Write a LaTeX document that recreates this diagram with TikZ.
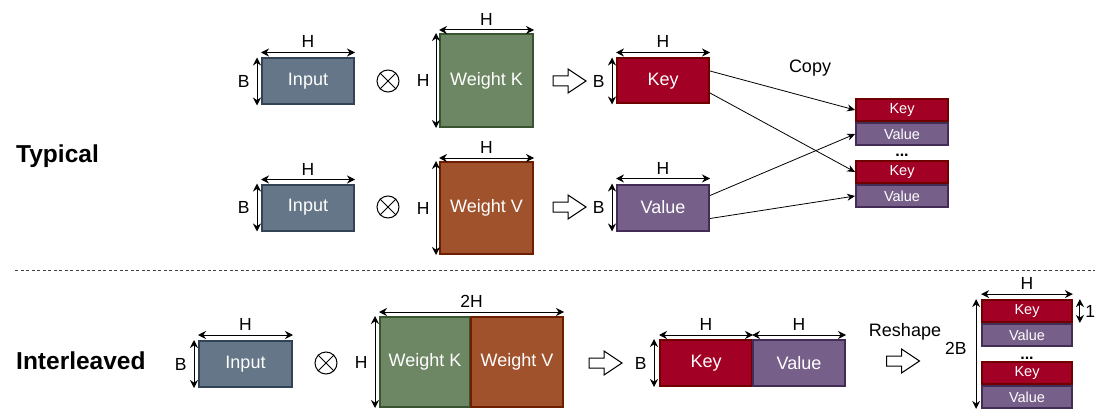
\documentclass[tikz,border=0pt]{standalone}
\usepackage{fontspec}
\setmainfont{Liberation Sans}
\usetikzlibrary{arrows.meta}

\definecolor{inFill}{HTML}{647687}\definecolor{inDraw}{HTML}{314354}
\definecolor{wkFill}{HTML}{6D8764}\definecolor{wkDraw}{HTML}{3A5431}
\definecolor{wvFill}{HTML}{A0522D}\definecolor{wvDraw}{HTML}{6D1F00}
\definecolor{keyFill}{HTML}{A20025}\definecolor{keyDraw}{HTML}{6F0000}
\definecolor{valFill}{HTML}{76608A}\definecolor{valDraw}{HTML}{432D57}

\tikzset{
  box/.style={draw, line width=2pt, text=white, inner sep=0pt,
    font=\fontsize{18}{20}\selectfont},
  inbox/.style={box, fill=inFill, draw=inDraw},
  wkbox/.style={box, fill=wkFill, draw=wkDraw},
  wvbox/.style={box, fill=wvFill, draw=wvDraw},
  keybox/.style={box, fill=keyFill, draw=keyDraw},
  valbox/.style={box, fill=valFill, draw=valDraw},
  sz/.style 2 args={minimum width=#1, minimum height=#2},
  small/.style={font=\fontsize{14.5}{16}\selectfont, line width=1.8pt},
  lbl/.style={inner sep=1pt, font=\fontsize{17.5}{19}\selectfont},
  txt/.style={inner sep=1pt, font=\fontsize{18}{20}\selectfont},
  sect/.style={inner sep=0pt, font=\fontsize{24.5}{26}\selectfont\bfseries},
  dots/.style={inner sep=0pt, font=\fontsize{16}{18}\selectfont\bfseries, anchor=base},
  dim/.style={{Stealth[length=8pt,width=8pt]}-{Stealth[length=8pt,width=8pt]}, line width=1pt},
  conn/.style={-{Stealth[length=8pt,width=7pt]}, line width=0.8pt},
  timesop/.style={circle, draw, line width=1pt, minimum size=22, inner sep=0pt},
  hollowarrow/.pic={\draw[line width=1pt, fill=white]
    (-16.5,-5) -- (-1.5,-5) -- (-1.5,-12) -- (16.5,0) -- (-1.5,12) -- (-1.5,5) -- (-16.5,5) -- cycle;},
}

\begin{document}
\begin{tikzpicture}[x=1pt, y=-1pt]
\useasboundingbox (0,0) rectangle (1107,409);

% ---------- section titles and separator ----------
\node[sect, anchor=base west] (tTyp) at (16,162) {Typical};
\node[sect, anchor=base west] (tInt) at (16,369) {Interleaved};
\draw[dash pattern=on 3pt off 2.5pt, line width=0.8pt, black!75] (15,270) -- (1095,270);

% ---------- typical: key path ----------
\node[inbox, sz={92}{46}] (in1) at (308,81.5) {Input};
\node[timesop] (m1) at (388,81) {};
\node[wkbox, sz={93}{93}] (wk1) at (486.5,80.5) {Weight K};
\pic at (569.5,81) {hollowarrow};
\node[keybox, sz={92}{45}] (k1) at (663,81) {Key};

% ---------- typical: value path ----------
\node[inbox, sz={92}{46}] (in2) at (308,207.5) {Input};
\node[timesop] (m2) at (388,207) {};
\node[wvbox, sz={93}{92}] (wv1) at (486.5,208) {Weight V};
\pic at (569.5,207) {hollowarrow};
\node[valbox, sz={92}{46}] (v1) at (663,207.5) {Value};

% ---------- typical: cache entries ----------
\node[keybox, small, sz={92}{22}] (ck1) at (902,110) {Key};
\node[valbox, small, sz={92}{22}] (cv1) at (902,134) {Value};
\node[dots] (dots1) at (902,156) {...};
\node[keybox, small, sz={92}{22}] (ck2) at (902,172) {Key};
\node[valbox, small, sz={92}{22}] (cv2) at (902,196) {Value};
\node[txt] (copy) at (810,68) {Copy};

\draw[conn] ([yshift=10pt]k1.east) -- (ck1.west);
\draw[conn] ([yshift=-12pt]k1.east) -- (ck2.west);
\draw[conn] ([yshift=12pt]v1.east) -- (cv1.west);
\draw[conn] ([yshift=-11pt]v1.east) -- (cv2.west);

% ---------- interleaved ----------
\node[inbox, sz={93}{46}] (in3) at (245.5,364) {Input};
\node[timesop] (m3) at (326,363) {};
\node[wkbox, sz={90}{90}] (wk2) at (425,362) {Weight K};
\node[wvbox, sz={92}{90}] (wv2) at (517,362) {Weight V};
\pic at (605.5,363) {hollowarrow};
\node[keybox, sz={92}{46}] (k2) at (706,363) {Key};
\node[valbox, sz={92}{46}] (v2) at (799,363) {Value};
\node[txt] (reshape) at (905,332) {Reshape};
\pic at (903,361) {hollowarrow};
\node[keybox, small, sz={90}{22}] (ik1) at (1027,311) {Key};
\node[valbox, small, sz={90}{22}] (iv1) at (1027,335) {Value};
\node[dots] (dots2) at (1027,359) {...};
\node[keybox, small, sz={90}{22}] (ik2) at (1027,373) {Key};
\node[valbox, small, sz={90}{22}] (iv2) at (1027,397) {Value};

% ---------- multiplication signs ----------
\foreach \m in {m1,m2,m3}{
  \draw[line width=1pt] (\m.north west) -- (\m.south east);
  \draw[line width=1pt] (\m.north east) -- (\m.south west);
}

% ---------- dimension markers ----------
\draw[dim] ([yshift=5pt]in1.north west) -- node[lbl, above=3pt] {H} ([yshift=5pt]in1.north east);
\draw[dim] ([xshift=-4pt]in1.north west) -- node[lbl, left=6pt] {B} ([xshift=-4pt]in1.south west);
\draw[dim] ([yshift=3pt]wk1.north west) -- node[lbl, above=3pt] {H} ([yshift=3pt]wk1.north east);
\draw[dim] ([xshift=-3pt]wk1.north west) -- node[lbl, left=5pt] {H} ([xshift=-3pt]wk1.south west);
\draw[dim] ([yshift=5pt]k1.north west) -- node[lbl, above=3pt] {H} ([yshift=5pt]k1.north east);
\draw[dim] ([xshift=-4pt]k1.north west) -- node[lbl, left=6pt] {B} ([xshift=-4pt]k1.south west);

\draw[dim] ([yshift=4pt]in2.north west) -- node[lbl, above=3pt] {H} ([yshift=4pt]in2.north east);
\draw[dim] ([xshift=-4pt]in2.north west) -- node[lbl, left=6pt] {B} ([xshift=-4pt]in2.south west);
\draw[dim] ([yshift=3pt]wv1.north west) -- node[lbl, above=3pt] {H} ([yshift=3pt]wv1.north east);
\draw[dim] ([xshift=-3pt]wv1.north west) -- node[lbl, left=5pt] {H} ([xshift=-3pt]wv1.south west);
\draw[dim] ([yshift=5pt]v1.north west) -- node[lbl, above=3pt] {H} ([yshift=5pt]v1.north east);
\draw[dim] ([xshift=-4pt]v1.north west) -- node[lbl, left=6pt] {B} ([xshift=-4pt]v1.south west);

\draw[dim] ([yshift=5pt]in3.north west) -- node[lbl, above=3pt] {H} ([yshift=5pt]in3.north east);
\draw[dim] ([xshift=-4pt]in3.north west) -- node[lbl, left=6pt] {B} ([xshift=-4pt]in3.south west);
\draw[dim] ([yshift=4pt]wk2.north west) -- node[lbl, above=3pt] {2H} ([yshift=4pt]wv2.north east);
\draw[dim] ([xshift=-4pt]wk2.north west) -- node[lbl, left=6pt] {H} ([xshift=-4pt]wk2.south west);
\draw[dim] ([yshift=4pt]k2.north west) -- node[lbl, above=3pt] {H} ([yshift=4pt]k2.north east);
\draw[dim] ([yshift=4pt]v2.north west) -- node[lbl, above=3pt] {H} ([yshift=4pt]v2.north east);
\draw[dim] ([xshift=-5pt]k2.north west) -- node[lbl, left=6pt] {B} ([xshift=-5pt]k2.south west);
\draw[dim] ([yshift=5pt]ik1.north west) -- node[lbl, above=3pt] {H} ([yshift=5pt]ik1.north east);
\draw[dim] ([xshift=7pt]ik1.north east) -- node[lbl, right=4pt] {1} ([xshift=7pt]ik1.south east);
\draw[dim] ([xshift=-5pt]ik1.north west) -- node[lbl, left=8pt, pos=0.45] {2B} ([xshift=-5pt]iv2.south west);
\end{tikzpicture}
\end{document}
